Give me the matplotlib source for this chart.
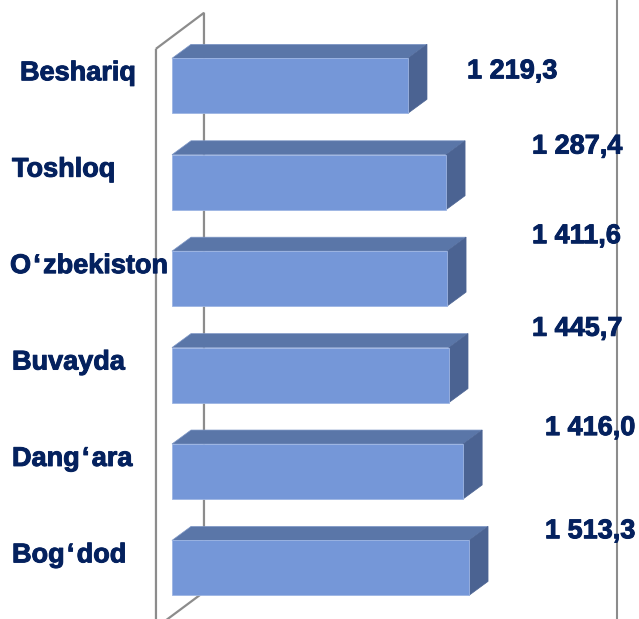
import matplotlib
matplotlib.use('Agg')
import matplotlib.pyplot as plt
from matplotlib.patches import Polygon
import matplotlib.patheffects as pe

# Data (top to bottom, as in the picture)
regions = ['Beshariq', 'Toshloq', 'O\u200aʻ\u200azbekiston', 'Buvayda', 'Dang\u200aʻ\u200aara', 'Bog\u200aʻ\u200adod']
value_labels = ['1 219,3', '1 287,4', '1 411,6', '1 445,7', '1 416,0', '1 513,3']
# bar lengths as drawn in the picture (they do not follow the labels exactly)
bar_values = [1202, 1396, 1401, 1411, 1483, 1513]

# style
front_c = '#7597D8'
top_c = '#5A76A8'
side_c = '#4B6392'
text_c = '#04215E'
line_c = '#8C8C8C'
font = ['Liberation Sans', 'DejaVu Sans']
bold = [pe.withStroke(linewidth=0.7, foreground=text_c)]

bar_h = 0.57
dx, dy = 97, 0.145  # depth of the 3d effect, data units

# manual label placement
name_x = [20, 12, 10, 12, 12, 12]          # px from left edge
name_dy = -0.13
num_x = [1503, 1834, 1834, 1834, 1900, 1900]  # data units
num_dy = [-0.15, -0.37, -0.44, -0.48, -0.45, -0.38]

fig = plt.figure(figsize=(6.39, 6.19), dpi=100)
ax = fig.add_axes([0, 0, 1, 1])
ax.set_xlim(-876, 2379)
ax.set_ylim(5.53, -0.89)
ax.axis('off')

# back wall
wall = Polygon([(-81.5, -0.384), (163, -0.757), (163, 5.25), (-81.5, 5.62)],
               closed=True, fill=False, edgecolor=line_c, linewidth=1.6, zorder=1)
ax.add_patch(wall)

# right border line
ax.axvline(2267, color=line_c, linewidth=1.5, zorder=1)

for i, v in enumerate(bar_values):
    top = i - bar_h / 2
    bot = i + bar_h / 2
    ax.barh(i, v, height=bar_h, left=0, color=front_c, edgecolor='#9DB5E3',
            linewidth=0.6, zorder=3)
    ax.add_patch(Polygon([(0, top), (v, top), (v + dx, top - dy), (dx, top - dy)],
                         closed=True, facecolor=top_c, edgecolor='#7E97C6',
                         linewidth=0.5, zorder=2))
    ax.add_patch(Polygon([(v, top), (v + dx, top - dy), (v + dx, bot - dy), (v, bot)],
                         closed=True, facecolor=side_c, edgecolor=side_c,
                         linewidth=0.5, zorder=2))

for i, name in enumerate(regions):
    ax.text(name_x[i] / 639, i + name_dy, name, transform=ax.get_yaxis_transform(),
            ha='left', va='center', fontsize=19.5, fontweight='bold',
            color=text_c, family=font, zorder=5, path_effects=bold)

for i, lab in enumerate(value_labels):
    ax.text(num_x[i], i + num_dy[i], lab, ha='left', va='center', fontsize=19.5,
            fontweight='bold', color=text_c, family=font, zorder=5, path_effects=bold)

fig.savefig('out.png', dpi=100)
